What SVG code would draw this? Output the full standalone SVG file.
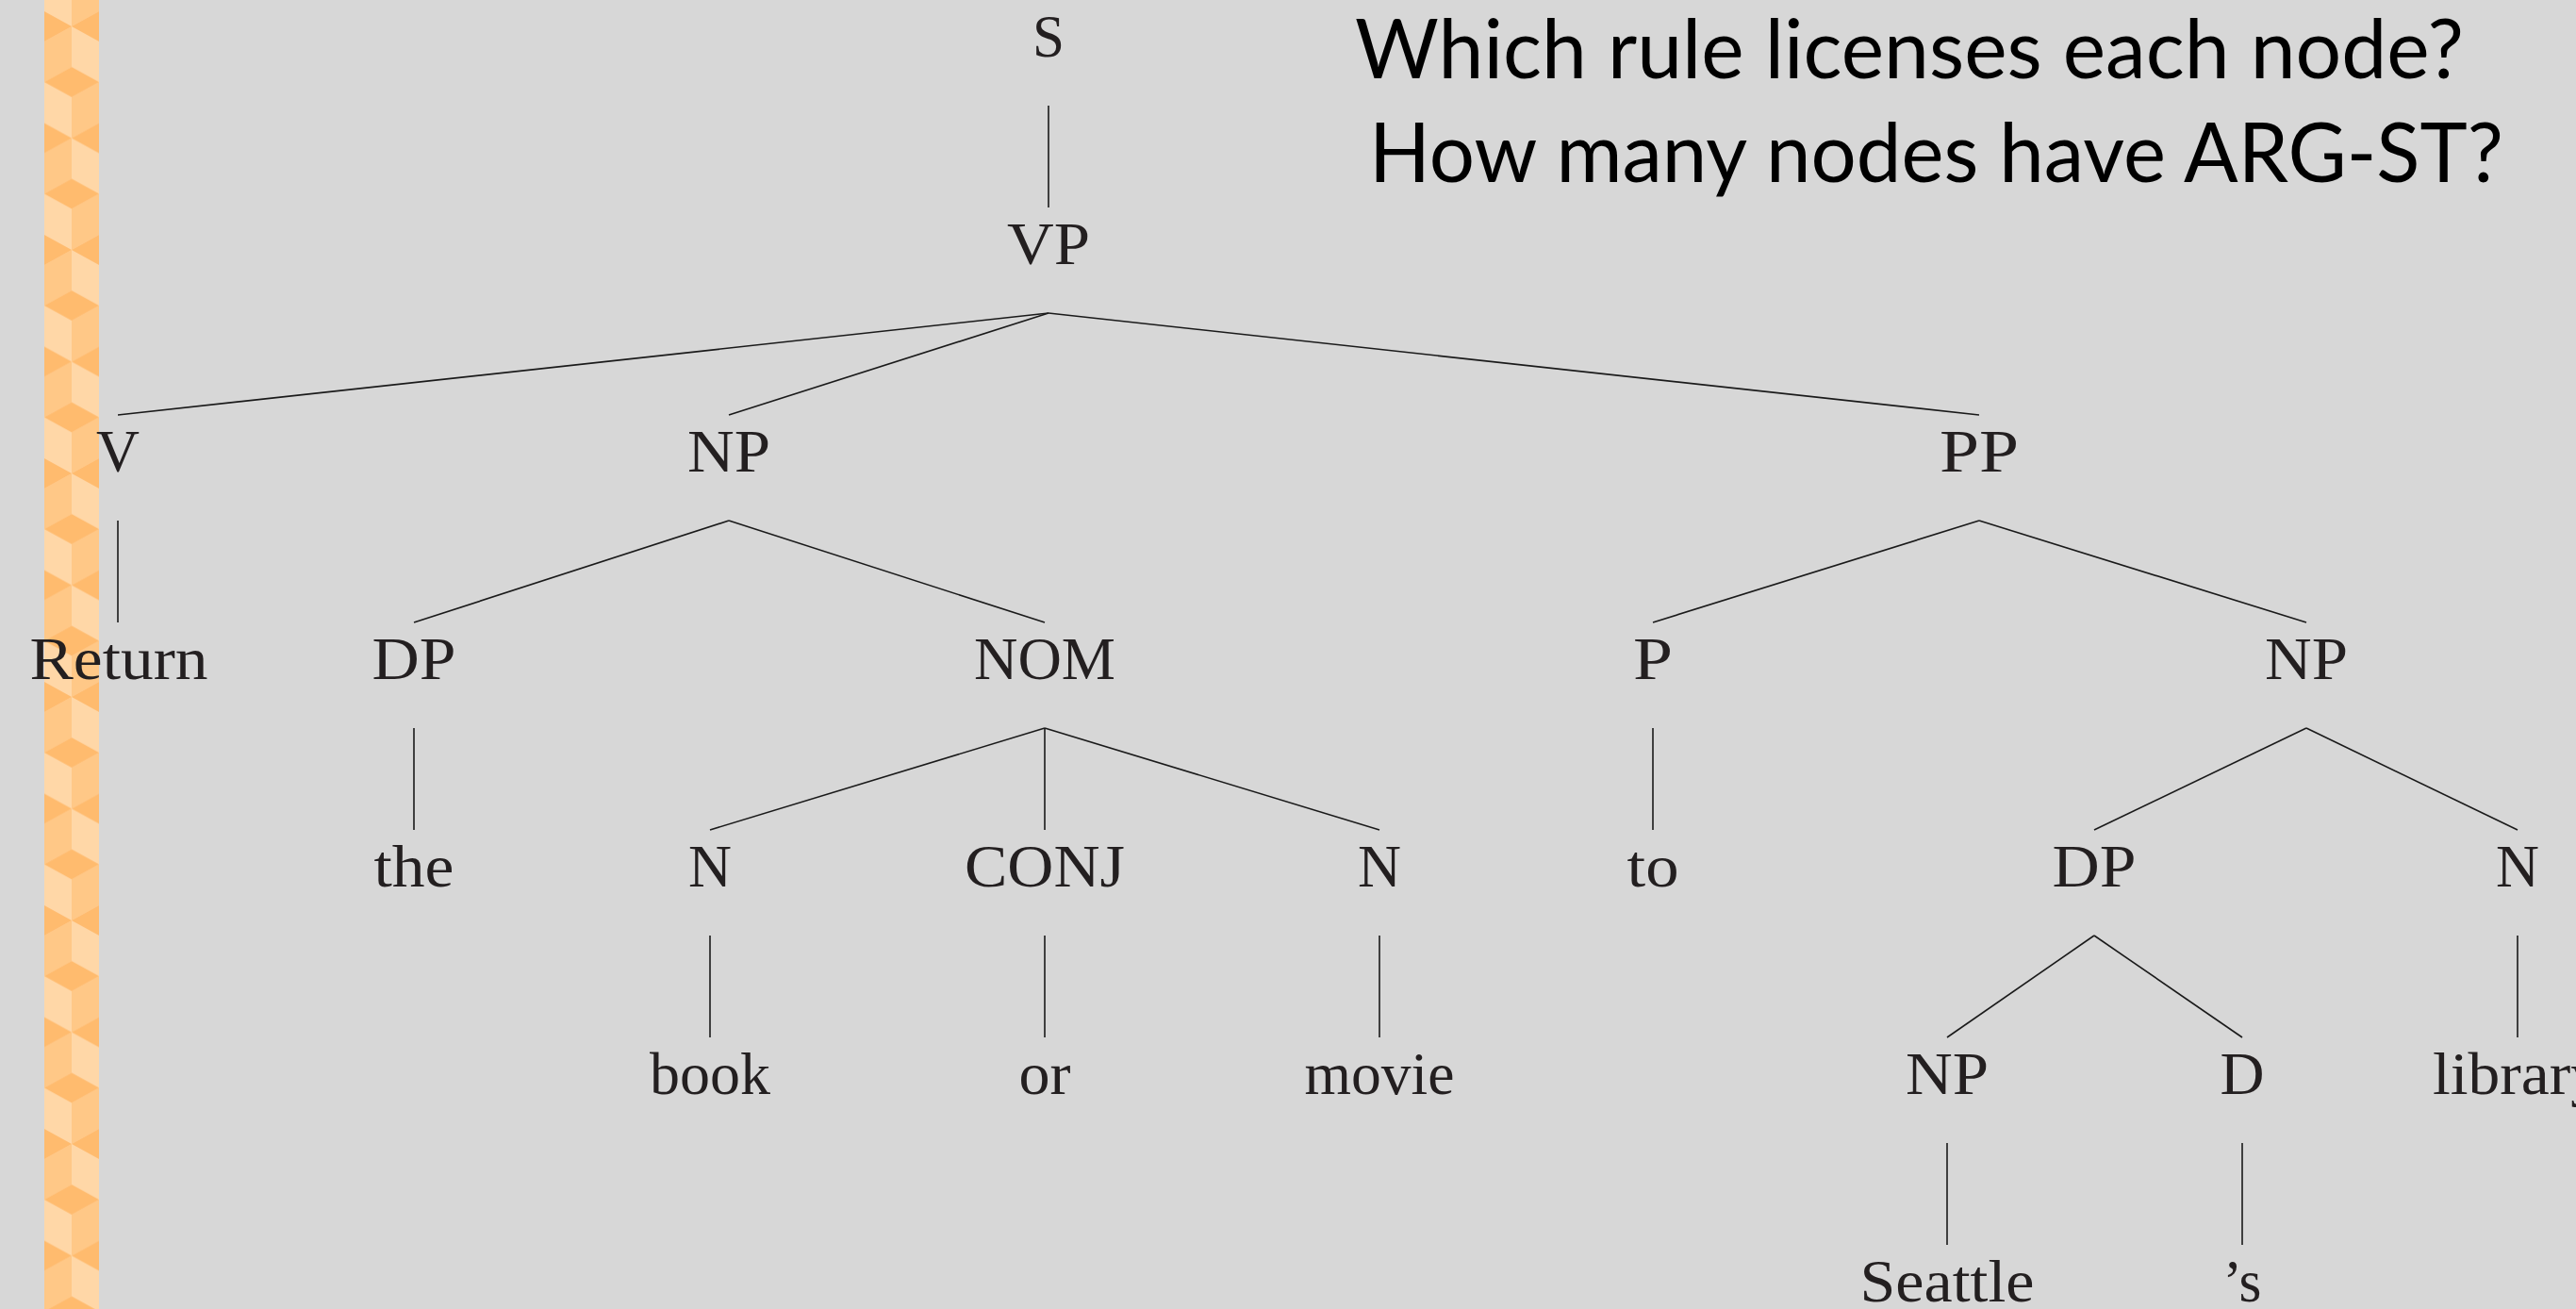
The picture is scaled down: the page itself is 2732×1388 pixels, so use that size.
<svg xmlns="http://www.w3.org/2000/svg" width="2732" height="1388" viewBox="0 0 2732 1388">
<defs>
<pattern id="cubes" patternUnits="userSpaceOnUse" x="47" y="28" width="58" height="118.5">
<rect x="0" y="0" width="58" height="118.5" fill="#FFD7A7"/>
<polygon points="0,16 29,0 29,43 0,59" fill="#FFC887"/>
<polygon points="29,75 58,59 58,102.5 29,118.5" fill="#FFC887"/>
<polygon points="0,59 29,43 58,59 29,75" fill="#FFBB6E"/>
<polygon points="0,-16 29,0 0,16" fill="#FFBB6E"/>
<polygon points="58,-16 29,0 58,16" fill="#FFBB6E"/>
<polygon points="0,102.5 29,118.5 0,134.5" fill="#FFBB6E"/>
<polygon points="58,102.5 29,118.5 58,134.5" fill="#FFBB6E"/>
</pattern>
<style>
.lbl{font-family:"Liberation Serif","Times New Roman",serif;font-size:63px;fill:#231F20;text-anchor:middle}
.ttl{font-family:Lato,"Open Sans",sans-serif;font-size:88px;fill:#000}
.edge{stroke:#1a1a1a;stroke-width:1.6;fill:none}
</style>
</defs>
<rect x="0" y="0" width="2732" height="1388" fill="#D7D7D7"/>
<rect x="47" y="0" width="58" height="1388" fill="url(#cubes)"/>

<g id="title">
<text class="ttl" x="1437" y="83" textLength="1176" lengthAdjust="spacingAndGlyphs">Which rule licenses each node?</text>
<text class="ttl" x="1452" y="193" textLength="1203" lengthAdjust="spacingAndGlyphs">How many nodes have ARG-ST?</text>
</g>

<g id="connectors">
<line class="edge" x1="1112" y1="112" x2="1112" y2="220"/>
<line class="edge" x1="1112" y1="332" x2="125" y2="440"/>
<line class="edge" x1="1112" y1="332" x2="773" y2="440"/>
<line class="edge" x1="1112" y1="332" x2="2099" y2="440"/>
<line class="edge" x1="125" y1="552" x2="125" y2="660"/>
<line class="edge" x1="773" y1="552" x2="439" y2="660"/>
<line class="edge" x1="773" y1="552" x2="1108" y2="660"/>
<line class="edge" x1="2099" y1="552" x2="1753" y2="660"/>
<line class="edge" x1="2099" y1="552" x2="2446" y2="660"/>
<line class="edge" x1="439" y1="772" x2="439" y2="880"/>
<line class="edge" x1="1108" y1="772" x2="753" y2="880"/>
<line class="edge" x1="1108" y1="772" x2="1108" y2="880"/>
<line class="edge" x1="1108" y1="772" x2="1463" y2="880"/>
<line class="edge" x1="1753" y1="772" x2="1753" y2="880"/>
<line class="edge" x1="2446" y1="772" x2="2221" y2="880"/>
<line class="edge" x1="2446" y1="772" x2="2670" y2="880"/>
<line class="edge" x1="753" y1="992" x2="753" y2="1100"/>
<line class="edge" x1="1108" y1="992" x2="1108" y2="1100"/>
<line class="edge" x1="1463" y1="992" x2="1463" y2="1100"/>
<line class="edge" x1="2221" y1="992" x2="2065" y2="1100"/>
<line class="edge" x1="2221" y1="992" x2="2378" y2="1100"/>
<line class="edge" x1="2670" y1="992" x2="2670" y2="1100"/>
<line class="edge" x1="2065" y1="1212" x2="2065" y2="1320"/>
<line class="edge" x1="2378" y1="1212" x2="2378" y2="1320"/>
</g>

<g id="n-S"><text class="lbl" x="1112" y="60" textLength="34" lengthAdjust="spacingAndGlyphs">S</text></g>
<g id="n-VP"><text class="lbl" x="1112" y="280" textLength="88" lengthAdjust="spacingAndGlyphs">VP</text></g>
<g id="n-V"><text class="lbl" x="125" y="500" textLength="46" lengthAdjust="spacingAndGlyphs">V</text></g>
<g id="n-NP1"><text class="lbl" x="773" y="500" textLength="88" lengthAdjust="spacingAndGlyphs">NP</text></g>
<g id="n-PP"><text class="lbl" x="2099" y="500" textLength="84" lengthAdjust="spacingAndGlyphs">PP</text></g>
<g id="n-Return"><text class="lbl" x="126" y="720" textLength="189" lengthAdjust="spacingAndGlyphs">Return</text></g>
<g id="n-DP1"><text class="lbl" x="439" y="720" textLength="89" lengthAdjust="spacingAndGlyphs">DP</text></g>
<g id="n-NOM"><text class="lbl" x="1108" y="720" textLength="150" lengthAdjust="spacingAndGlyphs">NOM</text></g>
<g id="n-P"><text class="lbl" x="1753" y="720" textLength="42" lengthAdjust="spacingAndGlyphs">P</text></g>
<g id="n-NP2"><text class="lbl" x="2446" y="720" textLength="88" lengthAdjust="spacingAndGlyphs">NP</text></g>
<g id="n-the"><text class="lbl" x="439" y="940" textLength="85" lengthAdjust="spacingAndGlyphs">the</text></g>
<g id="n-N1"><text class="lbl" x="753" y="940" textLength="46" lengthAdjust="spacingAndGlyphs">N</text></g>
<g id="n-CONJ"><text class="lbl" x="1108" y="940" textLength="170" lengthAdjust="spacingAndGlyphs">CONJ</text></g>
<g id="n-N2"><text class="lbl" x="1463" y="940" textLength="46" lengthAdjust="spacingAndGlyphs">N</text></g>
<g id="n-to"><text class="lbl" x="1753" y="940" textLength="55" lengthAdjust="spacingAndGlyphs">to</text></g>
<g id="n-DP2"><text class="lbl" x="2221" y="940" textLength="89" lengthAdjust="spacingAndGlyphs">DP</text></g>
<g id="n-N3"><text class="lbl" x="2670" y="940" textLength="46" lengthAdjust="spacingAndGlyphs">N</text></g>
<g id="n-book"><text class="lbl" x="753" y="1160" textLength="128" lengthAdjust="spacingAndGlyphs">book</text></g>
<g id="n-or"><text class="lbl" x="1108" y="1160" textLength="55" lengthAdjust="spacingAndGlyphs">or</text></g>
<g id="n-movie"><text class="lbl" x="1463" y="1160" textLength="159" lengthAdjust="spacingAndGlyphs">movie</text></g>
<g id="n-NP3"><text class="lbl" x="2065" y="1160" textLength="88" lengthAdjust="spacingAndGlyphs">NP</text></g>
<g id="n-D"><text class="lbl" x="2378" y="1160" textLength="47" lengthAdjust="spacingAndGlyphs">D</text></g>
<g id="n-library"><text class="lbl" x="2670" y="1160" textLength="180" lengthAdjust="spacingAndGlyphs">library</text></g>
<g id="n-Seattle"><text class="lbl" x="2065" y="1380" textLength="185" lengthAdjust="spacingAndGlyphs">Seattle</text></g>
<g id="n-s"><text class="lbl" x="2378" y="1380" textLength="41" lengthAdjust="spacingAndGlyphs">’s</text></g>
</svg>
